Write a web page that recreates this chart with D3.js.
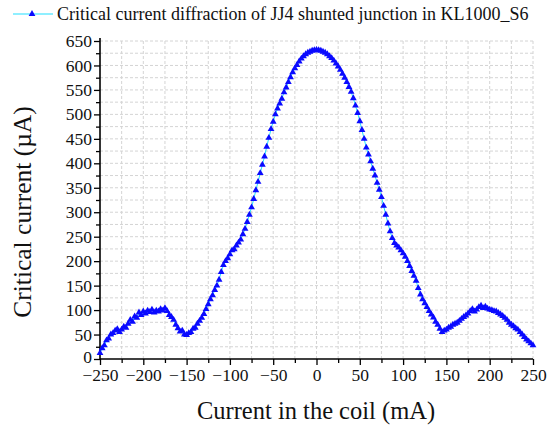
<!DOCTYPE html>
<html><head><meta charset="utf-8">
<script src="https://cdn.jsdelivr.net/npm/d3@7"></script>
<style>body{margin:0;background:#fff}svg{display:block}text{font-family:'Liberation Serif','Times New Roman',serif}</style>
</head><body>
<script>
// coil current sweep (mA), step 2.5
const coilCurrent = d3.range(-250, 250.001, 2.5);
// measured critical current (µA)
const criticalCurrent = [
12,22,28,38,42,50,53,58,61,55,60,66,64,72,80,76,87,84,95,90,
97,93,99,96,101,95,99,97,102,99,104,98,90,86,80,70,63,56,58,50,
49,53,55,62,64,72,78,84,92,102,112,122,130,141,150,162,178,192,200,206,
214,222,224,232,238,244,255,266,280,295,310,327,345,362,380,397,414,434,452,470,
485,500,512,522,532,545,555,566,576,586,594,601,608,614,619,623,626,628,630,631,
632,631,630,628,626,623,619,615,610,604,598,591,583,575,566,556,546,533,518,503,
486,468,450,432,418,404,389,375,360,346,331,313,295,277,261,247,237,232,228,222,
216,209,200,190,180,170,160,145,132,122,114,106,98,91,85,76,70,62,55,58,
60,64,66,70,72,74,78,82,86,89,93,98,102,97,101,106,109,104,107,103,
101,100,98,97,94,91,88,84,80,74,70,67,63,60,55,50,45,40,36,32,28
];
const xTicks = [-250,-200,-150,-100,-50,0,50,100,150,200,250];
const yTicks = [0,50,100,150,200,250,300,350,400,450,500,550,600,650];
const legendText = "Critical current diffraction of JJ4 shunted junction in KL1000_S6";
const xTitle = "Current in the coil (mA)";
const yTitle = "Critical current (\u00B5A)";

const W = 549, H = 428;
const svg = d3.select("body").append("svg").attr("width", W).attr("height", H);
const x = d3.scaleLinear().domain([-250, 250]).range([100, 533]);
const y = d3.scaleLinear().domain([0, 650]).range([359, 41]);
const font = "'Liberation Serif', 'Times New Roman', serif";

// grid
const gx = d3.range(-250, 250.001, 25), gy = d3.range(0, 650.001, 25);
svg.append("g").selectAll("line").data(gx.filter(v => v > -250)).join("line")
  .attr("x1", d => x(d)).attr("x2", d => x(d)).attr("y1", y(0)).attr("y2", y(650))
  .attr("stroke", "#d4d4d4").attr("stroke-dasharray", "3,2");
svg.append("g").selectAll("line").data(gy.filter(v => v > 0)).join("line")
  .attr("x1", x(-250)).attr("x2", x(250)).attr("y1", d => y(d)).attr("y2", d => y(d))
  .attr("stroke", "#d4d4d4").attr("stroke-dasharray", "3,2");

// axes
const xAxis = svg.append("g").attr("transform", `translate(0,${y(0)})`)
  .call(d3.axisBottom(x).tickValues(xTicks).tickSize(6).tickPadding(4).tickFormat(d3.format("d")));
svg.append("g").attr("transform", `translate(0,${y(0)})`)
  .call(d3.axisBottom(x).tickValues(d3.range(-225, 250, 50)).tickSize(4).tickFormat(""))
  .select(".domain").remove();
const yAxis = svg.append("g").attr("transform", `translate(${x(-250)},0)`)
  .call(d3.axisLeft(y).tickValues(yTicks).tickSize(6).tickPadding(2).tickFormat(d3.format("d")));
svg.append("g").attr("transform", `translate(${x(-250)},0)`)
  .call(d3.axisLeft(y).tickValues(d3.range(25, 650, 50)).tickSize(4).tickFormat(""))
  .select(".domain").remove();
svg.selectAll("g").attr("font-family", null);
svg.selectAll(".domain").attr("stroke", "#000").attr("stroke-width", 1.6);
svg.selectAll(".tick line").attr("stroke", "#000").attr("stroke-width", 1.3);
svg.selectAll(".tick text").style("font-family", font).style("font-size", "17.5px").attr("fill", "#111");
xAxis.select(".domain").attr("d", `M${x(-250)},0H${x(250)}`);
yAxis.select(".domain").attr("d", `M0,${y(0)}V${y(650) - 3}`);
yAxis.selectAll(".tick text").filter(d => d === 0).attr("dy", "0.2em");

// data
const pts = coilCurrent.map((c, i) => [c, criticalCurrent[i]]);
svg.append("path").datum(pts)
  .attr("d", d3.line().x(d => x(d[0])).y(d => y(d[1])))
  .attr("fill", "none").attr("stroke", "#20e0ff").attr("stroke-width", 1);
const tri = d3.symbol().type(d3.symbolTriangle).size(20);
svg.append("g").selectAll("path").data(pts).join("path")
  .attr("d", tri).attr("transform", d => `translate(${x(d[0])},${y(d[1])})`)
  .attr("fill", "#0a0aff");

// titles
svg.append("text").attr("x", 316).attr("y", 419).attr("text-anchor", "middle")
  .style("font-family", font).style("font-size", "24.5px").attr("fill", "#111").text(xTitle);
svg.append("text").attr("transform", "translate(31,212) rotate(-90)").attr("text-anchor", "middle")
  .style("font-family", font).style("font-size", "25.5px").attr("fill", "#111").text(yTitle);

// legend
svg.append("line").attr("x1", 13).attr("x2", 53).attr("y1", 14).attr("y2", 14)
  .attr("stroke", "#20e0ff").attr("stroke-width", 1.2);
svg.append("path").attr("d", tri).attr("transform", "translate(32,14)").attr("fill", "#0a0aff");
svg.append("text").attr("x", 57).attr("y", 20).style("font-family", font).style("font-size", "18px")
  .attr("fill", "#111").text(legendText);
</script>
</body></html>
